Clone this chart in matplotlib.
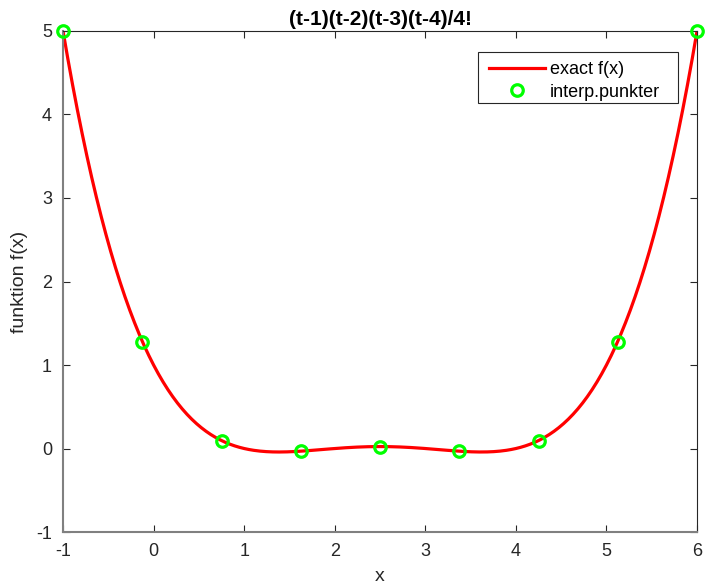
import numpy as np
import matplotlib
matplotlib.use("Agg")
import matplotlib.pyplot as plt
from matplotlib.patches import Rectangle

plt.rcParams['font.family'] = ['Liberation Sans', 'DejaVu Sans']
plt.rcParams['axes.unicode_minus'] = False

# polynomial from the title: (t-1)(t-2)(t-3)(t-4)/4!
roots = [1, 2, 3, 4]
scale = 1 / 24
x_range = [-1, 6]

# interpolation points
px = [-1.0, -0.125, 0.75, 1.625, 2.5, 3.375, 4.25, 5.125, 6.0]
py = [5.0, 1.28, 0.09, -0.03, 0.02, -0.03, 0.09, 1.28, 5.0]

xticks = [-1, 0, 1, 2, 3, 4, 5, 6]
yticks = [-1, 0, 1, 2, 3, 4, 5]

t = np.linspace(x_range[0], x_range[1], 400)
f = scale * np.polyval(np.poly(roots), t)

fig = plt.figure(figsize=(7.05, 5.88), dpi=100)
ax = fig.add_axes([0.0894, 0.0952, 0.8993, 0.8521])
ax.plot(t, f, color='#ff0000', lw=2.3, label='exact f(x)', zorder=2)
ax.plot(px, py, 'o', mfc='none', mec='#00ff00', mew=2.3, ms=8.3,
        label='interp.punkter', zorder=3, clip_on=False)

ax.set_xlim(-1, 6)
ax.set_ylim(-1, 5)
ax.set_xticks(xticks)
ax.set_yticks(yticks)
ax.tick_params(direction='in', top=True, right=True, labelsize=13,
               colors='#262626', length=5, width=0.8)
ax.tick_params(axis='x', pad=8)
ax.tick_params(axis='y', pad=8)
for s in ['left', 'bottom']:
    ax.spines[s].set_color('#808080')
    ax.spines[s].set_linewidth(1.5)
for s in ['top', 'right']:
    ax.spines[s].set_color('#262626')
    ax.spines[s].set_linewidth(0.8)

ax.set_title('(t-1)(t-2)(t-3)(t-4)/4!', fontsize=15, fontweight='bold', pad=4)
ax.set_xlabel('x', fontsize=14, color='#262626', labelpad=6)
ax.set_ylabel('funktion f(x)', fontsize=14, color='#262626', labelpad=6)

# legend frame drawn separately (wider right margin as in reference)
frame = Rectangle((0.6546, 0.8563), 0.9700 - 0.6546, 0.9581 - 0.8563,
                  transform=ax.transAxes, facecolor='white', edgecolor='#262626',
                  linewidth=0.8, zorder=4)
ax.add_patch(frame)
leg = ax.legend(loc='upper left', bbox_to_anchor=(0.6593, 0.9561), borderaxespad=0,
                fontsize=13, frameon=False,
                handlelength=3.1, borderpad=0.45, labelspacing=0.3, handletextpad=0.28)
leg.set_zorder(5)

fig.savefig('out.png', dpi=100)
